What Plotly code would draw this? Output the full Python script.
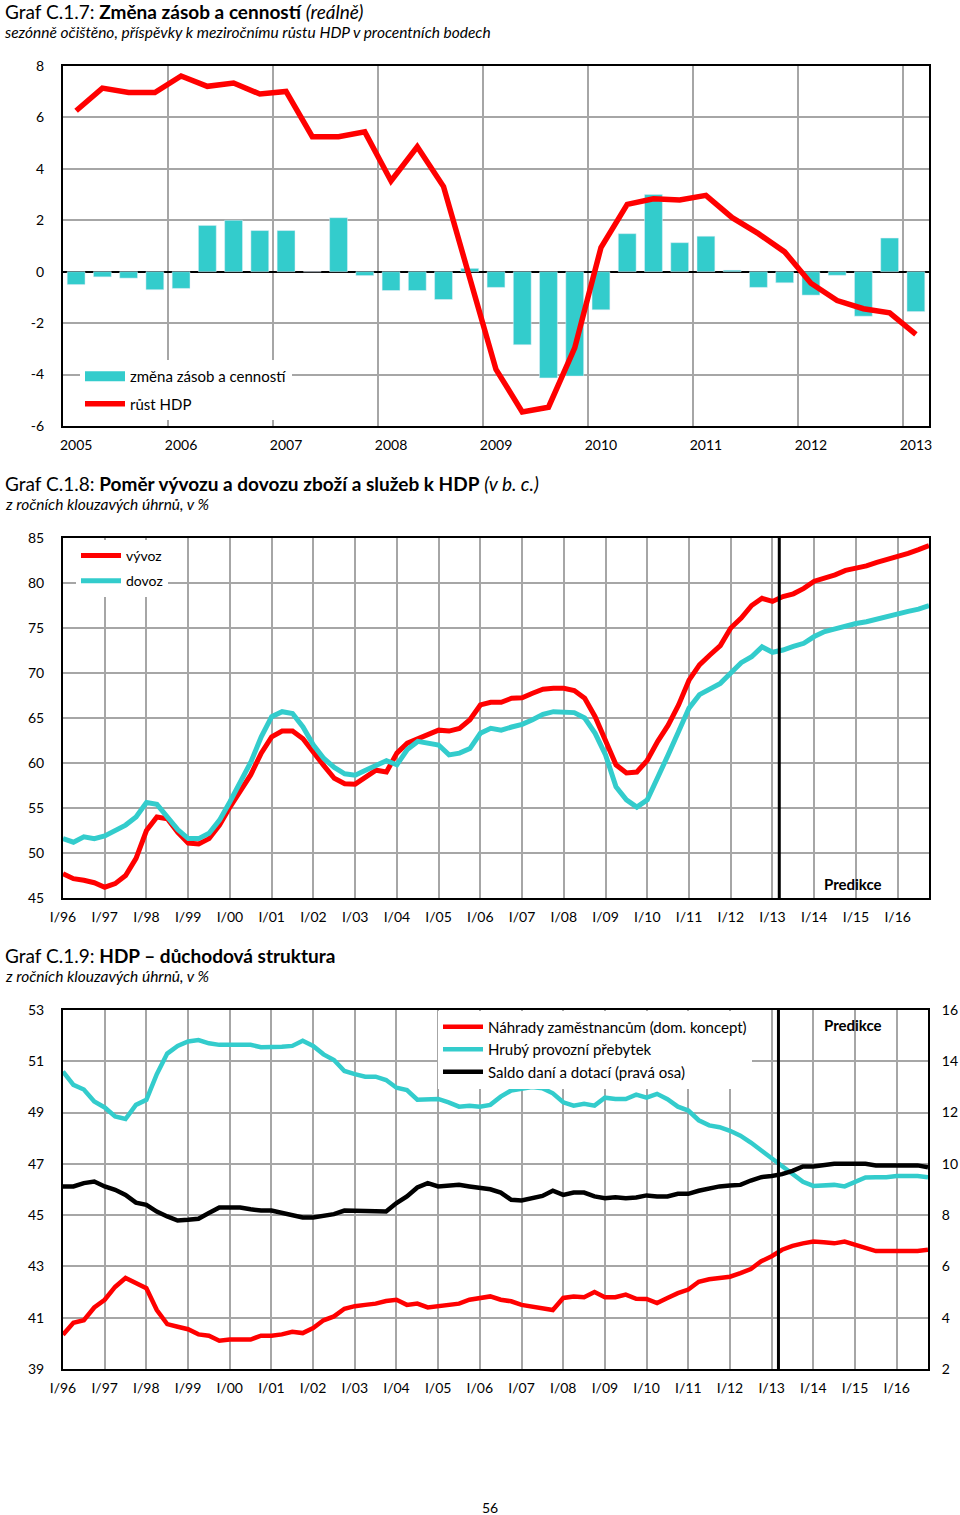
import plotly.graph_objects as go

# ---------------- DATA ----------------
# Chart C.1.7 : quarterly 2005Q1 .. 2013Q1
years_c17 = ["2005", "2006", "2007", "2008", "2009", "2010", "2011", "2012", "2013"]
y_ticks_c17 = [-6, -4, -2, 0, 2, 4, 6, 8]
y_labels_c17 = ["-6", "-4", "-2", "0", "2", "4", "6", "8"]
zasoby = [-0.5, -0.2, -0.25, -0.7, -0.65, 1.8, 2.0, 1.6, 1.6, 0.0, 2.1, -0.15,
          -0.73, -0.73, -1.08, 0.13, -0.61, -2.84, -4.13, -4.06, -1.48, 1.48,
          3.0, 1.13, 1.38, 0.06, -0.61, -0.43, -0.91, -0.14, -1.73, 1.31, -1.55]
rust_hdp = [6.26, 7.14, 6.97, 6.97, 7.61, 7.21, 7.34, 6.91, 7.01, 5.25, 5.25, 5.44,
            3.53, 4.86, 3.31, -0.2, -3.8, -5.45, -5.27, -2.96, 0.94, 2.62,
            2.84, 2.79, 2.97, 2.1, 1.48, 0.77, -0.45, -1.12, -1.44, -1.6, -2.44]

# Charts C.1.8 / C.1.9 : quarterly I/96 .. IV/16
q_labels = ["I/96", "I/97", "I/98", "I/99", "I/00", "I/01", "I/02", "I/03", "I/04", "I/05", "I/06",
            "I/07", "I/08", "I/09", "I/10", "I/11", "I/12", "I/13", "I/14", "I/15", "I/16"]
vyvoz = [47.7, 47.15, 46.97, 46.7, 46.2, 46.6, 47.5, 49.4, 52.5, 54.0, 53.8, 52.3,
         51.1, 51.0, 51.6, 53.1, 55.1, 56.8, 58.7, 61.1, 62.9, 63.55, 63.55, 62.7,
         61.1, 59.7, 58.3, 57.7, 57.65, 58.4, 59.2, 59.0, 61.1, 62.2, 62.7, 63.3,
         63.65, 63.55, 63.85, 64.8, 66.45, 66.75, 66.75, 67.2, 67.25, 67.75, 68.2, 68.3,
         68.3, 68.05, 67.2, 65.15, 62.55, 59.8, 58.9, 59.0, 60.3, 62.4, 64.2, 66.45,
         69.2, 70.9, 72.0, 73.05, 75.0, 76.1, 77.5, 78.3, 77.95, 78.5, 78.8, 79.4,
         80.2, 80.55, 80.9, 81.4, 81.6, 81.9, 82.3, 82.6, 83.0, 83.3, 83.7, 84.15]
dovoz = [51.6, 51.2, 51.8, 51.6, 51.9, 52.5, 53.1, 54.0, 55.6, 55.4, 54.0, 52.6,
         51.6, 51.6, 52.2, 53.65, 55.7, 57.9, 60.1, 62.9, 65.15, 65.7, 65.5, 64.0,
         62.0, 60.5, 59.5, 58.8, 58.65, 59.2, 59.8, 60.25, 59.8, 61.5, 62.4, 62.2,
         62.0, 60.9, 61.1, 61.6, 63.3, 63.85, 63.65, 64.0, 64.3, 64.8, 65.4, 65.7,
         65.7, 65.6, 65.0, 63.3, 60.9, 57.35, 55.9, 55.1, 55.9, 58.3, 60.9, 63.5,
         66.1, 67.6, 68.2, 68.85, 70.0, 71.15, 71.8, 72.9, 72.3, 72.55, 72.95, 73.3,
         74.05, 74.6, 74.9, 75.25, 75.5, 75.7, 76.0, 76.3, 76.65, 76.85, 77.1, 77.5]
nahrady = [40.34, 40.8, 40.9, 41.4, 41.7, 42.2, 42.55, 42.35, 42.15, 41.3, 40.75, 40.65,
           40.55, 40.35, 40.3, 40.1, 40.15, 40.15, 40.15, 40.3, 40.3, 40.35, 40.45, 40.4,
           40.6, 40.9, 41.05, 41.35, 41.45, 41.5, 41.55, 41.65, 41.7, 41.5, 41.55, 41.4,
           41.45, 41.5, 41.55, 41.7, 41.77, 41.83, 41.7, 41.64, 41.5, 41.44, 41.35, 41.3,
           41.77, 41.83, 41.8, 42.0, 41.8, 41.8, 41.9, 41.74, 41.73, 41.57, 41.77, 41.96,
           42.1, 42.4, 42.5, 42.55, 42.6, 42.74, 42.9, 43.2, 43.4, 43.65, 43.8, 43.9,
           43.97, 43.94, 43.9, 43.97, 43.85, 43.7, 43.6, 43.6, 43.6, 43.6, 43.6, 43.65]
prebytek = [50.6, 50.08, 49.9, 49.43, 49.2, 48.85, 48.75, 49.3, 49.5, 50.5, 51.3, 51.6,
            51.77, 51.83, 51.7, 51.64, 51.64, 51.64, 51.64, 51.55, 51.55, 51.57, 51.6, 51.8,
            51.6, 51.27, 51.05, 50.62, 50.5, 50.4, 50.4, 50.27, 49.97, 49.88, 49.5, 49.5,
            49.53, 49.4, 49.23, 49.27, 49.23, 49.3, 49.62, 49.86, 49.95, 50.0, 49.95, 49.75,
            49.4, 49.27, 49.34, 49.27, 49.58, 49.53, 49.53, 49.7, 49.58, 49.73, 49.52, 49.23,
            49.08, 48.7, 48.5, 48.43, 48.29, 48.1, 47.83, 47.52, 47.22, 46.9, 46.6, 46.3,
            46.14, 46.14, 46.18, 46.12, 46.3, 46.47, 46.48, 46.48, 46.53, 46.53, 46.53, 46.48]
saldo = [9.12, 9.12, 9.25, 9.31, 9.12, 8.99, 8.79, 8.49, 8.4, 8.14, 7.95, 7.79,
         7.82, 7.86, 8.08, 8.3, 8.3, 8.3, 8.23, 8.18, 8.18, 8.1, 7.99, 7.91,
         7.91, 7.97, 8.04, 8.18, 8.18, 8.14, 8.14, 8.14, 8.47, 8.73, 9.08, 9.25,
         9.12, 9.14, 9.18, 9.12, 9.05, 9.01, 8.88, 8.6, 8.57, 8.66, 8.75, 8.95,
         8.79, 8.88, 8.88, 8.73, 8.66, 8.7, 8.66, 8.69, 8.77, 8.73, 8.73, 8.83,
         8.83, 8.95, 9.05, 9.12, 9.16, 9.18, 9.35, 9.48, 9.53, 9.6, 9.73, 9.9,
         9.9, 9.96, 10.0, 10.0, 10.0, 10.0, 9.94, 9.94, 9.94, 9.94, 9.94, 9.87]
forecast_start = 68.65  # quarter index where the forecast begins (between I/13 and II/13)

# ---------------- STYLE ----------------
W, H = 960, 1515
RED = "#FF0000"
TEAL = "#33CCCC"
GRID = "#A6A6A6"
FONT = "Lato"

def py(px):
    return 1 - px / H

def px_x(px):
    return px / W

q17 = list(range(len(zasoby)))
q = list(range(len(vyvoz)))

fig = go.Figure()

# Chart 1
fig.add_trace(go.Bar(x=q17, y=zasoby, marker_color=TEAL, width=0.68,
                     name="změna zásob a cenností", xaxis="x", yaxis="y",
                     showlegend=False, legendgroup="a"))
# legend swatch for the bars (wide rectangle as in the original legend)
fig.add_trace(go.Scatter(x=[None], y=[None], mode="lines", line=dict(color=TEAL, width=10),
                         name="změna zásob a cenností", xaxis="x", yaxis="y",
                         legend="legend", legendgroup="a", hoverinfo="skip"))
fig.add_trace(go.Scatter(x=q17, y=rust_hdp, mode="lines", line=dict(color=RED, width=5.5),
                         name="růst HDP", xaxis="x", yaxis="y",
                         legend="legend", legendgroup="b"))
# Chart 2
fig.add_trace(go.Scatter(x=q, y=vyvoz, mode="lines", line=dict(color=RED, width=5),
                         name="vývoz", xaxis="x2", yaxis="y2", legend="legend2", legendgroup="c"))
fig.add_trace(go.Scatter(x=q, y=dovoz, mode="lines", line=dict(color=TEAL, width=5),
                         name="dovoz", xaxis="x2", yaxis="y2", legend="legend2", legendgroup="d"))
# Chart 3
fig.add_trace(go.Scatter(x=q, y=nahrady, mode="lines", line=dict(color=RED, width=4.5),
                         name="Náhrady zaměstnancům (dom. koncept)", xaxis="x3", yaxis="y3",
                         legend="legend3", legendgroup="e"))
fig.add_trace(go.Scatter(x=q, y=prebytek, mode="lines", line=dict(color=TEAL, width=4.5),
                         name="Hrubý provozní přebytek", xaxis="x3", yaxis="y3",
                         legend="legend3", legendgroup="f"))
fig.add_trace(go.Scatter(x=q, y=saldo, mode="lines", line=dict(color="#000000", width=4.5),
                         name="Saldo daní a dotací (pravá osa)", xaxis="x3", yaxis="y4",
                         legend="legend3", legendgroup="g"))

tickfont = dict(family=FONT, size=14, color="#000")
axis_common = dict(showline=True, linecolor="#000", linewidth=2, mirror=True,
                   tickfont=tickfont, zeroline=False, fixedrange=True, automargin=False)
grid = dict(gridcolor=GRID, gridwidth=1.5)

xdom = [px_x(63), px_x(929)]
xdom3 = [px_x(63), px_x(928)]

layout = dict(
    width=W, height=H, autosize=False,
    margin=dict(l=0, r=0, t=0, b=0, pad=0, autoexpand=False),
    paper_bgcolor="white", plot_bgcolor="white",
    font=dict(family=FONT, size=14, color="#000"),
    xaxis=dict(domain=xdom, anchor="y", range=[-0.5, len(zasoby) - 0.5],
               tickmode="array", tickvals=[4 * i for i in range(len(years_c17))],
               ticktext=years_c17, showgrid=False,
               ticks="outside", ticklen=5, tickcolor="rgba(0,0,0,0)",
               minor=dict(tickmode="linear", tick0=3.5, dtick=4, showgrid=True, **grid),
               **axis_common),
    yaxis=dict(domain=[py(426), py(66)], anchor="x", range=[-6, 8],
               tickmode="array", tickvals=y_ticks_c17, ticktext=y_labels_c17,
               showgrid=True, ticks="outside", ticklen=14, tickcolor="rgba(0,0,0,0)",
               **grid, **{**axis_common, "zeroline": True, "zerolinecolor": "#000",
                          "zerolinewidth": 2}),
    xaxis2=dict(domain=xdom, anchor="y2", range=[0, len(vyvoz) - 1],
                tickmode="array", tickvals=[4 * i for i in range(len(q_labels))],
                ticktext=q_labels, showgrid=True, **grid,
                ticks="outside", ticklen=5, tickcolor="rgba(0,0,0,0)", **axis_common),
    yaxis2=dict(domain=[py(898), py(538)], anchor="x2", range=[45, 85], dtick=5,
                tick0=45, tickmode="linear", showgrid=True, **grid,
                ticks="outside", ticklen=14, tickcolor="rgba(0,0,0,0)", **axis_common),
    xaxis3=dict(domain=xdom3, anchor="y3", range=[0, len(nahrady) - 1],
                tickmode="array", tickvals=[4 * i for i in range(len(q_labels))],
                ticktext=q_labels, showgrid=True, **grid,
                ticks="outside", ticklen=5, tickcolor="rgba(0,0,0,0)", **axis_common),
    yaxis3=dict(domain=[py(1369), py(1010)], anchor="x3", range=[39, 53], dtick=2,
                tick0=39, tickmode="linear", showgrid=True, **grid,
                ticks="outside", ticklen=14, tickcolor="rgba(0,0,0,0)", **axis_common),
    yaxis4=dict(overlaying="y3", anchor="x3", side="right", range=[2, 16], dtick=2,
                tick0=2, tickmode="linear", showgrid=False, showline=False,
                zeroline=False, tickfont=tickfont, automargin=False,
                ticks="outside", ticklen=10, tickcolor="rgba(0,0,0,0)", fixedrange=True),
    legend=dict(x=px_x(80), y=py(360), xanchor="left", yanchor="top",
                bgcolor="white", font=dict(family=FONT, size=15),
                tracegroupgap=5, itemwidth=40, borderwidth=0),
    legend2=dict(x=px_x(76), y=py(540), xanchor="left", yanchor="top",
                 bgcolor="white", font=dict(family=FONT, size=14),
                 tracegroupgap=4, itemwidth=40, borderwidth=0),
    legend3=dict(x=px_x(438), y=py(1010.5), xanchor="left", yanchor="top",
                 bgcolor="white", font=dict(family=FONT, size=15),
                 tracegroupgap=0, itemwidth=40, borderwidth=0),
    showlegend=True,
)
fig.update_layout(**layout)

# forecast separator lines
for xr, yr in (("x2", "y2 domain"), ("x3", "y3 domain")):
    fig.add_shape(type="line", xref=xr, yref=yr, x0=forecast_start, x1=forecast_start,
                  y0=0, y1=1, line=dict(color="#000", width=3), layer="above")

# text annotations
def ann(text, x, y, size, xanchor="left"):
    fig.add_annotation(text=text, x=px_x(x), y=py(y), xref="paper", yref="paper",
                       xanchor=xanchor, yanchor="middle", showarrow=False,
                       font=dict(family=FONT, size=size, color="#000"))

ann("Graf C.1.7: <b>Změna zásob a cenností</b> <i>(reálně)</i>", 3, 11, 19)
ann("<i>sezónně očištěno, příspěvky k meziročnímu růstu HDP v procentních bodech</i>", 3, 32, 15.5)
ann("Graf C.1.8: <b>Poměr vývozu a dovozu zboží a služeb k HDP</b> <i>(v b. c.)</i>", 3, 483, 19)
ann("<i>z ročních klouzavých úhrnů, v %</i>", 3, 504, 15.5)
ann("Graf C.1.9: <b>HDP – důchodová struktura</b>", 3, 955, 19)
ann("<i>z ročních klouzavých úhrnů, v %</i>", 3, 976, 15.5)
ann("<b>Predikce</b>", 853, 884, 15, "center")
ann("<b>Predikce</b>", 853, 1025, 15, "center")
ann("56", 490, 1507, 14, "center")

fig.write_html("out.html", config={"displayModeBar": False},
               post_script="document.body.style.margin='0';document.body.style.overflow='hidden';")
